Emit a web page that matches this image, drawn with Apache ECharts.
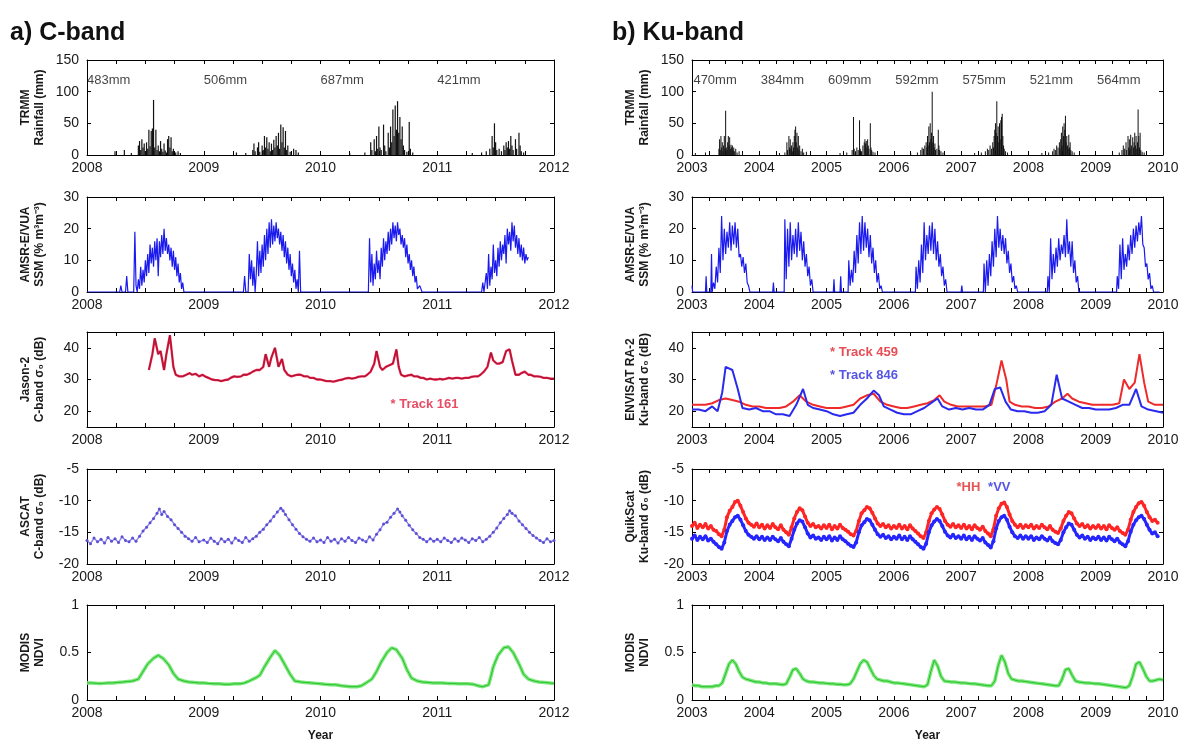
<!DOCTYPE html>
<html><head><meta charset="utf-8">
<script src="https://cdn.jsdelivr.net/npm/echarts@6/dist/echarts.min.js"></script>
<style>html,body{margin:0;padding:0;background:#fff}#c{width:1179px;height:743px}</style>
</head><body><div id="c"></div>
<script>
// ---------------- DATA ----------------
// Left column (C-band), decimal years 2008-2012
const rainC = [
[2008.24,6],[2008.32,8],[2008.38,3],[2008.44,15],[2008.45,22],[2008.46,8],[2008.47,25],[2008.48,12],[2008.49,18],[2008.50,6],[2008.51,20],[2008.52,10],[2008.53,40],[2008.54,14],[2008.55,38],[2008.56,42],[2008.57,87],[2008.58,12],[2008.59,40],[2008.60,8],[2008.61,15],[2008.62,6],[2008.63,22],[2008.64,10],[2008.65,5],[2008.66,18],[2008.67,7],[2008.68,4],[2008.69,25],[2008.70,30],[2008.71,12],[2008.72,28],[2008.73,6],[2008.74,10],[2008.76,4],[2008.78,6],[2008.80,3],
[2009.28,4],[2009.36,3],[2009.42,8],[2009.43,18],[2009.44,6],[2009.46,12],[2009.47,20],[2009.48,5],[2009.50,15],[2009.51,8],[2009.52,30],[2009.53,12],[2009.54,28],[2009.55,10],[2009.56,20],[2009.57,6],[2009.58,18],[2009.59,8],[2009.60,24],[2009.61,12],[2009.62,30],[2009.63,15],[2009.64,35],[2009.65,10],[2009.66,48],[2009.67,20],[2009.68,44],[2009.69,12],[2009.70,38],[2009.71,8],[2009.72,15],[2009.74,5],[2009.77,10],[2009.79,8],[2009.81,4],
[2010.25,3],[2010.38,4],[2010.43,20],[2010.44,8],[2010.46,25],[2010.47,6],[2010.48,30],[2010.49,10],[2010.50,45],[2010.51,12],[2010.52,8],[2010.54,48],[2010.55,15],[2010.56,6],[2010.58,35],[2010.59,12],[2010.60,45],[2010.61,20],[2010.62,72],[2010.63,30],[2010.64,78],[2010.65,40],[2010.66,85],[2010.67,35],[2010.68,60],[2010.69,25],[2010.70,45],[2010.71,15],[2010.72,8],[2010.74,5],[2010.76,52],[2010.77,10],[2010.79,4],
[2011.30,3],[2011.38,4],[2011.42,6],[2011.45,10],[2011.47,30],[2011.48,12],[2011.49,50],[2011.50,20],[2011.51,8],[2011.53,10],[2011.55,6],[2011.57,15],[2011.58,8],[2011.59,20],[2011.60,12],[2011.61,22],[2011.62,10],[2011.63,30],[2011.64,15],[2011.65,8],[2011.67,25],[2011.68,10],[2011.70,35],[2011.71,15],[2011.72,6],[2011.74,4]
];
const rainTotYearsC = [2008, 2009, 2010, 2011];
const rainTotLabelsC = ['483mm', '506mm', '687mm', '421mm'];

const ssmC = [
[2008.00,0],[2008.20,0],[2008.28,0],[2008.29,2],[2008.30,0],[2008.33,0],[2008.34,5],[2008.35,0],[2008.40,0],[2008.41,19],[2008.42,2],[2008.43,0],[2008.44,4],[2008.45,1],[2008.46,8],[2008.47,2],[2008.48,7],[2008.49,3],[2008.50,10],[2008.51,5],[2008.52,12],[2008.53,6],[2008.54,15],[2008.55,9],[2008.56,14],[2008.57,8],[2008.58,16],[2008.59,10],[2008.60,17],[2008.61,5],[2008.62,16],[2008.63,11],[2008.64,18],[2008.65,12],[2008.66,20],[2008.67,13],[2008.68,17],[2008.69,12],[2008.70,15],[2008.71,10],[2008.72,14],[2008.73,8],[2008.74,13],[2008.75,7],[2008.76,11],[2008.77,5],[2008.78,9],[2008.79,3],[2008.80,6],[2008.81,1],[2008.82,3],[2008.83,0],[2008.85,0],
[2009.30,0],[2009.34,0],[2009.35,5],[2009.36,0],[2009.38,0],[2009.39,12],[2009.40,4],[2009.41,10],[2009.42,2],[2009.43,8],[2009.44,0],[2009.45,6],[2009.46,16],[2009.47,5],[2009.48,13],[2009.49,6],[2009.50,15],[2009.51,8],[2009.52,18],[2009.53,10],[2009.54,20],[2009.55,12],[2009.56,22],[2009.57,14],[2009.58,23],[2009.59,15],[2009.60,21],[2009.61,16],[2009.62,22],[2009.63,17],[2009.64,20],[2009.65,15],[2009.66,19],[2009.67,13],[2009.68,18],[2009.69,11],[2009.70,16],[2009.71,9],[2009.72,14],[2009.73,7],[2009.74,12],[2009.75,5],[2009.76,9],[2009.77,3],[2009.78,7],[2009.79,1],[2009.80,4],[2009.81,0],[2009.82,13],[2009.83,0],[2009.85,0],
[2010.38,0],[2010.41,0],[2010.42,17],[2010.43,3],[2010.44,12],[2010.45,2],[2010.46,9],[2010.47,4],[2010.48,13],[2010.49,6],[2010.50,10],[2010.51,4],[2010.52,14],[2010.53,8],[2010.54,17],[2010.55,10],[2010.56,16],[2010.57,12],[2010.58,19],[2010.59,13],[2010.60,20],[2010.61,15],[2010.62,22],[2010.63,17],[2010.64,21],[2010.65,16],[2010.66,22],[2010.67,18],[2010.68,20],[2010.69,15],[2010.70,18],[2010.71,14],[2010.72,17],[2010.73,11],[2010.74,15],[2010.75,9],[2010.76,12],[2010.77,7],[2010.78,10],[2010.79,5],[2010.80,8],[2010.81,3],[2010.82,5],[2010.83,1],[2010.85,2],[2010.87,0],[2010.90,0],
[2011.35,0],[2011.38,0],[2011.39,3],[2011.40,0],[2011.42,6],[2011.43,1],[2011.44,12],[2011.45,2],[2011.46,8],[2011.47,4],[2011.48,15],[2011.49,6],[2011.50,10],[2011.51,5],[2011.52,14],[2011.53,8],[2011.54,16],[2011.55,10],[2011.56,15],[2011.57,12],[2011.58,18],[2011.59,9],[2011.60,20],[2011.61,15],[2011.62,19],[2011.63,13],[2011.64,22],[2011.65,16],[2011.66,21],[2011.67,14],[2011.68,18],[2011.69,12],[2011.70,17],[2011.71,11],[2011.72,15],[2011.73,10],[2011.74,14],[2011.75,9],[2011.76,12],[2011.77,10],[2011.78,11]
];

const jason161 = [
[2008.53,33],[2008.56,38],[2008.58,43],[2008.61,38],[2008.63,39],[2008.66,33],[2008.68,38],[2008.71,44],[2008.74,34],[2008.76,31.5],[2008.79,31],[2008.82,31],[2008.85,31.5],[2008.88,32],[2008.90,31.5],[2008.93,31.8],[2008.96,31],[2008.99,31.5],[2009.01,31],[2009.04,30.5],[2009.07,30],[2009.10,29.8],[2009.12,29.8],[2009.15,29.5],[2009.18,29.8],[2009.21,30],[2009.23,30.5],[2009.26,31],[2009.29,30.8],[2009.32,31],[2009.34,31.5],[2009.37,31.5],[2009.40,32],[2009.42,32.5],[2009.45,33],[2009.48,33],[2009.51,34],[2009.53,38],[2009.56,34],[2009.58,37],[2009.61,40],[2009.64,34],[2009.67,36.5],[2009.69,33],[2009.72,31.5],[2009.75,31],[2009.78,31.3],[2009.80,31.5],[2009.83,31.5],[2009.86,31],[2009.89,31],[2009.91,30.5],[2009.94,30.5],[2009.97,30],[2010.00,30],[2010.02,29.8],[2010.05,29.5],[2010.08,29.5],[2010.11,29.3],[2010.13,29.5],[2010.16,29.8],[2010.19,30],[2010.21,30.3],[2010.24,30.5],[2010.27,30.3],[2010.30,30.5],[2010.32,30.8],[2010.35,31],[2010.38,31],[2010.40,31.5],[2010.43,32.5],[2010.46,35],[2010.48,39],[2010.51,34],[2010.53,33],[2010.56,34],[2010.59,34.5],[2010.62,35],[2010.65,39.5],[2010.67,34],[2010.69,31.5],[2010.72,31],[2010.75,31.3],[2010.78,31.5],[2010.80,31],[2010.83,31],[2010.86,30.5],[2010.88,30.5],[2010.91,30],[2010.94,30.3],[2010.97,30],[2011.00,30],[2011.02,30.2],[2011.05,30],[2011.08,30.3],[2011.10,30.5],[2011.13,30.3],[2011.16,30.5],[2011.18,30.5],[2011.21,30.3],[2011.24,30.5],[2011.27,30.5],[2011.29,30.8],[2011.32,31],[2011.35,31],[2011.37,31.5],[2011.40,32.5],[2011.43,34],[2011.46,38.5],[2011.48,36],[2011.51,35],[2011.53,35],[2011.56,35.5],[2011.59,39],[2011.62,39.5],[2011.64,36],[2011.67,31.5],[2011.70,31.5],[2011.72,32],[2011.75,32.5],[2011.78,31.5],[2011.80,31.5],[2011.83,31],[2011.86,31],[2011.89,30.8],[2011.91,30.5],[2011.94,30.5],[2011.97,30.3],[2012.00,30.3]
];

const ascat = [
[2008.00,-16.3],[2008.03,-16.8],[2008.06,-15.9],[2008.09,-16.5],[2008.12,-16.1],[2008.15,-16.7],[2008.18,-15.8],[2008.21,-16.4],[2008.24,-16.0],[2008.27,-16.6],[2008.30,-15.7],[2008.33,-16.3],[2008.36,-16.5],[2008.39,-15.9],[2008.42,-16.4],[2008.45,-15.6],[2008.48,-14.8],[2008.51,-14.2],[2008.54,-13.5],[2008.57,-12.8],[2008.60,-12.0],[2008.62,-11.3],[2008.64,-12.2],[2008.66,-11.7],[2008.69,-12.5],[2008.72,-13.0],[2008.75,-13.8],[2008.78,-14.4],[2008.81,-15.0],[2008.84,-15.6],[2008.87,-16.0],[2008.90,-16.4],[2008.93,-15.8],[2008.96,-16.5],
[2009.00,-16.2],[2009.03,-16.6],[2009.06,-15.9],[2009.09,-16.4],[2009.12,-16.8],[2009.15,-16.0],[2009.18,-16.5],[2009.21,-16.1],[2009.24,-16.7],[2009.27,-15.9],[2009.30,-16.3],[2009.33,-16.6],[2009.36,-15.8],[2009.39,-16.4],[2009.42,-16.0],[2009.45,-15.6],[2009.48,-15.0],[2009.51,-14.5],[2009.54,-13.8],[2009.57,-13.2],[2009.60,-12.5],[2009.63,-11.8],[2009.66,-11.2],[2009.68,-11.6],[2009.70,-12.2],[2009.73,-13.0],[2009.76,-13.8],[2009.79,-14.5],[2009.82,-15.2],[2009.85,-15.7],[2009.88,-16.1],[2009.91,-16.4],[2009.94,-15.9],[2009.97,-16.5],
[2010.00,-16.2],[2010.03,-16.6],[2010.06,-15.8],[2010.09,-16.4],[2010.12,-16.1],[2010.15,-16.7],[2010.18,-16.0],[2010.21,-16.4],[2010.24,-15.8],[2010.27,-16.3],[2010.30,-16.6],[2010.33,-15.9],[2010.36,-16.2],[2010.39,-16.5],[2010.42,-15.7],[2010.45,-16.2],[2010.48,-15.3],[2010.51,-14.6],[2010.54,-13.7],[2010.57,-13.4],[2010.60,-12.6],[2010.63,-12.0],[2010.66,-11.3],[2010.68,-11.8],[2010.70,-12.4],[2010.73,-13.1],[2010.76,-13.9],[2010.79,-14.6],[2010.82,-15.2],[2010.85,-15.8],[2010.88,-16.1],[2010.91,-16.5],[2010.94,-16.0],[2010.97,-16.4],
[2011.00,-16.1],[2011.03,-16.5],[2011.06,-15.9],[2011.09,-16.3],[2011.12,-16.6],[2011.15,-16.0],[2011.18,-16.4],[2011.21,-15.9],[2011.24,-16.2],[2011.27,-16.6],[2011.30,-16.0],[2011.33,-16.3],[2011.36,-15.8],[2011.39,-16.5],[2011.42,-16.1],[2011.45,-15.6],[2011.48,-15.0],[2011.51,-14.3],[2011.54,-13.5],[2011.57,-12.8],[2011.60,-12.2],[2011.62,-11.6],[2011.64,-12.0],[2011.67,-12.4],[2011.70,-13.2],[2011.73,-13.8],[2011.76,-14.4],[2011.79,-15.0],[2011.82,-15.5],[2011.85,-15.9],[2011.88,-16.3],[2011.91,-16.6],[2011.94,-16.0],[2011.97,-16.5],[2012.00,-16.3]
];

const ndviC = [
[2008.00,0.18],[2008.04,0.18],[2008.09,0.175],[2008.13,0.175],[2008.18,0.18],[2008.22,0.18],[2008.26,0.185],[2008.31,0.19],[2008.35,0.195],[2008.39,0.2],[2008.44,0.22],[2008.48,0.3],[2008.52,0.38],[2008.57,0.44],[2008.61,0.47],[2008.65,0.44],[2008.70,0.37],[2008.74,0.28],[2008.78,0.22],[2008.83,0.2],[2008.87,0.19],[2008.92,0.185],[2008.96,0.18],
[2009.00,0.18],[2009.04,0.175],[2009.09,0.17],[2009.13,0.17],[2009.18,0.165],[2009.22,0.165],[2009.26,0.17],[2009.31,0.17],[2009.35,0.18],[2009.39,0.2],[2009.44,0.23],[2009.48,0.26],[2009.52,0.35],[2009.57,0.45],[2009.61,0.52],[2009.65,0.47],[2009.70,0.36],[2009.74,0.27],[2009.78,0.2],[2009.83,0.19],[2009.87,0.185],[2009.92,0.18],[2009.96,0.175],
[2010.00,0.17],[2010.04,0.165],[2010.09,0.16],[2010.13,0.16],[2010.18,0.15],[2010.22,0.145],[2010.26,0.14],[2010.31,0.14],[2010.35,0.15],[2010.39,0.18],[2010.44,0.22],[2010.48,0.3],[2010.52,0.4],[2010.57,0.5],[2010.61,0.55],[2010.65,0.53],[2010.70,0.44],[2010.74,0.32],[2010.78,0.23],[2010.83,0.2],[2010.87,0.19],[2010.92,0.185],[2010.96,0.18],
[2011.00,0.18],[2011.04,0.18],[2011.09,0.175],[2011.13,0.175],[2011.18,0.17],[2011.22,0.17],[2011.26,0.17],[2011.31,0.165],[2011.35,0.15],[2011.39,0.14],[2011.44,0.16],[2011.46,0.25],[2011.48,0.35],[2011.52,0.47],[2011.57,0.55],[2011.61,0.56],[2011.65,0.5],[2011.70,0.38],[2011.74,0.27],[2011.78,0.22],[2011.83,0.2],[2011.87,0.19],[2011.92,0.185],[2011.96,0.18],[2012.00,0.175]
];

// Right column (Ku-band), decimal years 2003-2010
const rainKu = [
[2003.05,3],[2003.20,4],[2003.40,10],[2003.41,25],[2003.42,8],[2003.43,30],[2003.44,12],[2003.45,20],[2003.46,6],[2003.47,15],[2003.48,30],[2003.49,10],[2003.50,70],[2003.51,12],[2003.52,8],[2003.53,20],[2003.54,30],[2003.55,15],[2003.56,28],[2003.57,10],[2003.58,16],[2003.59,12],[2003.60,15],[2003.61,8],[2003.62,12],[2003.63,6],[2003.65,10],[2003.67,4],[2003.70,6],[2003.75,3],
[2004.30,3],[2004.38,4],[2004.41,20],[2004.42,8],[2004.44,30],[2004.45,12],[2004.46,25],[2004.47,10],[2004.48,15],[2004.49,6],[2004.50,20],[2004.51,12],[2004.52,30],[2004.53,40],[2004.54,45],[2004.55,20],[2004.56,35],[2004.57,12],[2004.58,30],[2004.59,8],[2004.60,15],[2004.62,6],[2004.64,10],[2004.66,4],[2004.70,5],
[2005.20,3],[2005.30,4],[2005.38,8],[2005.40,60],[2005.41,10],[2005.43,6],[2005.45,12],[2005.47,8],[2005.49,55],[2005.50,10],[2005.52,6],[2005.54,15],[2005.56,20],[2005.57,25],[2005.58,18],[2005.59,22],[2005.60,12],[2005.61,25],[2005.62,15],[2005.63,10],[2005.65,50],[2005.66,12],[2005.67,8],[2005.69,5],[2005.72,4],
[2006.25,3],[2006.35,4],[2006.40,8],[2006.42,12],[2006.44,10],[2006.46,15],[2006.48,20],[2006.49,12],[2006.50,30],[2006.51,15],[2006.52,45],[2006.53,20],[2006.54,50],[2006.55,25],[2006.56,35],[2006.57,100],[2006.58,20],[2006.59,30],[2006.60,12],[2006.61,18],[2006.62,8],[2006.64,10],[2006.66,40],[2006.67,15],[2006.68,8],[2006.70,6],[2006.73,4],
[2007.20,3],[2007.30,4],[2007.36,6],[2007.39,10],[2007.41,8],[2007.43,15],[2007.45,10],[2007.47,20],[2007.48,12],[2007.49,30],[2007.50,40],[2007.51,50],[2007.52,35],[2007.53,85],[2007.54,30],[2007.55,45],[2007.56,20],[2007.57,50],[2007.58,25],[2007.59,55],[2007.60,60],[2007.61,65],[2007.62,30],[2007.63,15],[2007.64,10],[2007.66,6],[2007.69,4],
[2008.20,3],[2008.30,4],[2008.36,6],[2008.38,10],[2008.40,8],[2008.42,15],[2008.44,12],[2008.46,20],[2008.47,10],[2008.48,25],[2008.49,35],[2008.50,15],[2008.51,45],[2008.52,30],[2008.53,50],[2008.54,40],[2008.55,62],[2008.56,20],[2008.57,30],[2008.58,15],[2008.59,10],[2008.60,32],[2008.61,12],[2008.62,20],[2008.63,8],[2008.65,6],[2008.68,4],
[2009.25,3],[2009.35,4],[2009.39,8],[2009.41,15],[2009.43,10],[2009.45,20],[2009.46,8],[2009.48,30],[2009.49,12],[2009.50,25],[2009.51,10],[2009.52,32],[2009.53,15],[2009.55,28],[2009.56,12],[2009.57,20],[2009.58,35],[2009.59,15],[2009.60,30],[2009.61,10],[2009.62,20],[2009.63,72],[2009.64,30],[2009.65,12],[2009.66,35],[2009.67,8],[2009.69,5],[2009.72,4]
];
const rainTotYearsKu = [2003, 2004, 2005, 2006, 2007, 2008, 2009];
const rainTotLabelsKu = ['470mm', '384mm', '609mm', '592mm', '575mm', '521mm', '564mm'];

const ssmKu = [
[2003.00,2],[2003.01,0],[2003.20,0],[2003.21,5],[2003.22,0],[2003.28,0],[2003.29,12],[2003.30,0],[2003.32,3],[2003.34,1],[2003.36,8],[2003.38,3],[2003.40,14],[2003.42,6],[2003.44,24],[2003.46,10],[2003.48,20],[2003.50,12],[2003.52,19],[2003.54,14],[2003.56,22],[2003.58,13],[2003.60,21],[2003.62,15],[2003.64,22],[2003.66,14],[2003.68,20],[2003.70,11],[2003.72,12],[2003.74,8],[2003.76,11],[2003.78,6],[2003.80,9],[2003.82,3],[2003.84,2],[2003.86,0],
[2004.20,0],[2004.21,3],[2004.22,0],[2004.37,0],[2004.38,23],[2004.40,4],[2004.42,20],[2004.44,8],[2004.46,22],[2004.48,10],[2004.50,18],[2004.52,12],[2004.54,20],[2004.56,11],[2004.58,22],[2004.60,13],[2004.62,19],[2004.64,10],[2004.66,16],[2004.68,8],[2004.70,12],[2004.72,5],[2004.74,8],[2004.76,2],[2004.78,4],[2004.80,0],
[2005.10,0],[2005.11,4],[2005.12,0],[2005.20,0],[2005.21,5],[2005.22,0],[2005.32,0],[2005.33,10],[2005.35,2],[2005.37,7],[2005.39,3],[2005.41,13],[2005.43,6],[2005.45,18],[2005.47,9],[2005.49,22],[2005.51,12],[2005.53,24],[2005.55,13],[2005.57,22],[2005.59,14],[2005.61,20],[2005.63,11],[2005.65,18],[2005.67,9],[2005.69,14],[2005.71,6],[2005.73,10],[2005.75,3],[2005.77,6],[2005.79,1],[2005.81,2],[2005.83,0],
[2006.32,0],[2006.33,8],[2006.35,1],[2006.37,10],[2006.39,3],[2006.41,15],[2006.43,6],[2006.45,22],[2006.47,10],[2006.49,18],[2006.51,12],[2006.53,21],[2006.55,13],[2006.57,22],[2006.59,12],[2006.61,20],[2006.63,10],[2006.65,16],[2006.67,8],[2006.69,12],[2006.71,5],[2006.73,8],[2006.75,2],[2006.77,4],[2006.79,0],
[2007.00,0],[2007.01,2],[2007.02,0],[2007.33,0],[2007.34,9],[2007.36,0],[2007.38,10],[2007.40,2],[2007.42,12],[2007.44,5],[2007.46,16],[2007.48,8],[2007.50,20],[2007.52,11],[2007.54,24],[2007.56,14],[2007.58,20],[2007.60,13],[2007.62,18],[2007.64,12],[2007.66,17],[2007.68,9],[2007.70,13],[2007.72,6],[2007.74,9],[2007.76,3],[2007.78,5],[2007.80,1],[2007.82,2],[2007.84,0],
[2008.28,0],[2008.29,5],[2008.31,0],[2008.33,17],[2008.35,4],[2008.37,12],[2008.39,6],[2008.41,14],[2008.43,8],[2008.45,17],[2008.47,10],[2008.49,15],[2008.51,12],[2008.53,18],[2008.55,11],[2008.57,23],[2008.59,12],[2008.61,16],[2008.63,8],[2008.65,16],[2008.67,6],[2008.69,10],[2008.71,3],[2008.73,5],[2008.75,0],
[2009.31,0],[2009.32,5],[2009.34,1],[2009.36,15],[2009.38,4],[2009.40,17],[2009.42,7],[2009.44,12],[2009.46,8],[2009.48,15],[2009.50,10],[2009.52,18],[2009.54,12],[2009.56,20],[2009.58,14],[2009.60,21],[2009.62,16],[2009.64,22],[2009.66,18],[2009.68,24],[2009.70,15],[2009.72,14],[2009.74,8],[2009.76,9],[2009.78,4],[2009.80,6],[2009.82,1],[2009.84,2],[2009.86,0],[2009.95,0]
];

const envTrack459 = [
[2003.0,22],[2003.1,22],[2003.2,22],[2003.3,22.5],[2003.4,23.5],[2003.5,24],[2003.6,23.5],[2003.7,23],[2003.8,22],[2003.9,21.5],[2004.0,21.5],[2004.1,21],[2004.2,21],[2004.3,21],[2004.4,21.5],[2004.5,23],[2004.6,25],[2004.7,23],[2004.8,22],[2004.9,21.5],[2005.0,21],[2005.1,21],[2005.2,21],[2005.3,21.5],[2005.4,22],[2005.5,24],[2005.6,25],[2005.7,25.5],[2005.8,23],[2005.9,22],[2006.0,21.5],[2006.1,21],[2006.2,21],[2006.3,21.5],[2006.4,22],[2006.5,22.5],[2006.6,23.5],[2006.68,25],[2006.75,23],[2006.85,22],[2006.95,21.5],[2007.05,21.5],[2007.15,21.5],[2007.25,21.5],[2007.35,21.5],[2007.45,22],[2007.52,28],[2007.6,36],[2007.67,30],[2007.72,23],[2007.8,22],[2007.9,21.5],[2008.0,21.5],[2008.1,21],[2008.2,21],[2008.3,21.5],[2008.4,23],[2008.5,24],[2008.58,25.5],[2008.65,24],[2008.75,23],[2008.85,22.5],[2008.95,22],[2009.05,22],[2009.15,22],[2009.25,22],[2009.35,22.5],[2009.42,30],[2009.5,27],[2009.58,29],[2009.65,38],[2009.72,29],[2009.78,23],[2009.88,22],[2010.0,22]
];
const envTrack846 = [
[2003.0,20.5],[2003.1,20.5],[2003.2,20],[2003.3,21.5],[2003.38,20],[2003.45,26],[2003.5,34],[2003.6,33],[2003.68,27],[2003.75,21],[2003.85,20.5],[2003.95,21],[2004.05,20],[2004.15,20],[2004.25,19],[2004.35,19],[2004.45,18.5],[2004.55,22],[2004.65,27],[2004.72,22],[2004.8,21],[2004.9,20.5],[2005.0,20],[2005.1,19],[2005.2,18.5],[2005.3,19],[2005.4,19.5],[2005.5,22],[2005.6,24],[2005.7,26.5],[2005.78,25],[2005.85,21.5],[2005.95,20.5],[2006.05,19.5],[2006.15,19],[2006.25,19],[2006.35,20],[2006.45,21],[2006.55,22.5],[2006.65,24],[2006.72,21.5],[2006.82,20.5],[2006.92,21],[2007.02,20.5],[2007.12,21],[2007.22,20.5],[2007.32,20.5],[2007.42,22],[2007.5,27],[2007.58,27.5],[2007.66,23],[2007.74,20.5],[2007.84,20],[2007.94,20],[2008.04,19.5],[2008.14,19.5],[2008.24,20],[2008.34,22],[2008.42,31.5],[2008.5,24],[2008.6,23],[2008.7,22],[2008.8,21],[2008.9,21],[2009.0,20.5],[2009.1,20.5],[2009.2,20.5],[2009.3,21],[2009.4,22],[2009.5,22],[2009.6,27],[2009.68,21.5],[2009.78,20.5],[2009.9,20],[2010.0,19.5]
];

const qsHH = [
[2003.00,-14.0],[2003.04,-13.5],[2003.08,-14.3],[2003.12,-13.8],[2003.16,-14.2],[2003.20,-13.7],[2003.24,-14.4],[2003.28,-14.0],[2003.32,-14.6],[2003.36,-14.8],[2003.40,-15.3],[2003.44,-15.6],[2003.48,-14.6],[2003.52,-12.6],[2003.56,-11.6],[2003.60,-11.0],[2003.64,-10.2],[2003.68,-10.0],[2003.72,-10.8],[2003.76,-11.8],[2003.80,-12.8],[2003.84,-13.5],[2003.88,-13.8],[2003.92,-14.1],[2003.96,-13.6],
[2004.00,-14.2],[2004.04,-13.8],[2004.08,-14.4],[2004.12,-13.9],[2004.16,-14.3],[2004.20,-13.7],[2004.24,-14.2],[2004.28,-14.5],[2004.32,-13.9],[2004.36,-14.6],[2004.40,-15.0],[2004.44,-15.4],[2004.48,-14.2],[2004.52,-12.8],[2004.56,-11.8],[2004.60,-11.2],[2004.64,-11.5],[2004.68,-12.5],[2004.72,-13.5],[2004.76,-14.0],[2004.80,-13.7],[2004.84,-14.2],[2004.88,-14.0],[2004.92,-14.4],[2004.96,-13.9],
[2005.00,-14.3],[2005.04,-13.8],[2005.08,-14.5],[2005.12,-14.0],[2005.16,-14.4],[2005.20,-13.8],[2005.24,-14.3],[2005.28,-14.6],[2005.32,-14.9],[2005.36,-15.3],[2005.40,-15.5],[2005.44,-14.8],[2005.48,-13.2],[2005.52,-12.0],[2005.56,-11.5],[2005.60,-11.0],[2005.64,-11.2],[2005.68,-11.9],[2005.72,-12.8],[2005.76,-13.6],[2005.80,-14.0],[2005.84,-13.7],[2005.88,-14.2],[2005.92,-13.9],[2005.96,-14.4],
[2006.00,-14.0],[2006.04,-14.3],[2006.08,-13.8],[2006.12,-14.4],[2006.16,-14.0],[2006.20,-14.5],[2006.24,-13.9],[2006.28,-14.4],[2006.32,-14.8],[2006.36,-15.2],[2006.40,-15.6],[2006.44,-15.9],[2006.48,-15.0],[2006.52,-13.2],[2006.56,-12.0],[2006.60,-11.4],[2006.64,-11.0],[2006.68,-11.3],[2006.72,-12.2],[2006.76,-13.2],[2006.80,-13.8],[2006.84,-14.1],[2006.88,-13.7],[2006.92,-14.2],[2006.96,-13.9],
[2007.00,-14.3],[2007.04,-13.8],[2007.08,-14.4],[2007.12,-14.0],[2007.16,-14.5],[2007.20,-13.9],[2007.24,-14.3],[2007.28,-14.6],[2007.32,-14.1],[2007.36,-14.8],[2007.40,-15.2],[2007.44,-15.6],[2007.48,-14.5],[2007.52,-12.4],[2007.56,-11.2],[2007.60,-10.5],[2007.64,-10.3],[2007.68,-11.0],[2007.72,-12.2],[2007.76,-13.2],[2007.80,-13.8],[2007.84,-14.2],[2007.88,-13.8],[2007.92,-14.3],[2007.96,-13.9],
[2008.00,-14.2],[2008.04,-13.8],[2008.08,-14.4],[2008.12,-14.0],[2008.16,-14.3],[2008.20,-13.8],[2008.24,-14.2],[2008.28,-14.5],[2008.32,-14.0],[2008.36,-14.6],[2008.40,-14.9],[2008.44,-15.1],[2008.48,-14.4],[2008.52,-13.2],[2008.56,-12.4],[2008.60,-11.8],[2008.64,-12.0],[2008.68,-12.8],[2008.72,-13.6],[2008.76,-14.0],[2008.80,-13.7],[2008.84,-14.2],[2008.88,-13.9],[2008.92,-14.4],[2008.96,-14.0],
[2009.00,-14.3],[2009.04,-13.9],[2009.08,-14.4],[2009.12,-14.0],[2009.16,-14.5],[2009.20,-13.9],[2009.24,-14.3],[2009.28,-14.6],[2009.32,-14.2],[2009.36,-14.8],[2009.40,-15.1],[2009.44,-15.4],[2009.48,-14.6],[2009.52,-13.0],[2009.56,-11.8],[2009.60,-11.0],[2009.64,-10.4],[2009.68,-10.2],[2009.72,-10.8],[2009.76,-11.8],[2009.80,-12.6],[2009.84,-13.2],[2009.88,-13.0],[2009.92,-13.5]
];
const qsVV = [
[2003.00,-16.0],[2003.04,-15.5],[2003.08,-16.2],[2003.12,-15.7],[2003.16,-16.1],[2003.20,-15.6],[2003.24,-16.3],[2003.28,-16.0],[2003.32,-16.5],[2003.36,-16.9],[2003.40,-17.3],[2003.44,-17.6],[2003.48,-16.6],[2003.52,-14.8],[2003.56,-13.8],[2003.60,-13.2],[2003.64,-12.6],[2003.68,-12.4],[2003.72,-13.0],[2003.76,-13.9],[2003.80,-14.8],[2003.84,-15.4],[2003.88,-15.7],[2003.92,-16.0],[2003.96,-15.6],
[2004.00,-16.1],[2004.04,-15.7],[2004.08,-16.2],[2004.12,-15.8],[2004.16,-16.2],[2004.20,-15.7],[2004.24,-16.1],[2004.28,-16.4],[2004.32,-15.9],[2004.36,-16.5],[2004.40,-16.9],[2004.44,-17.2],[2004.48,-16.0],[2004.52,-14.6],[2004.56,-13.6],[2004.60,-13.1],[2004.64,-13.3],[2004.68,-14.2],[2004.72,-15.2],[2004.76,-15.8],[2004.80,-15.5],[2004.84,-16.0],[2004.88,-15.8],[2004.92,-16.2],[2004.96,-15.7],
[2005.00,-16.1],[2005.04,-15.6],[2005.08,-16.3],[2005.12,-15.8],[2005.16,-16.2],[2005.20,-15.6],[2005.24,-16.1],[2005.28,-16.4],[2005.32,-16.8],[2005.36,-17.1],[2005.40,-17.3],[2005.44,-16.6],[2005.48,-15.0],[2005.52,-13.9],[2005.56,-13.4],[2005.60,-12.9],[2005.64,-13.1],[2005.68,-13.8],[2005.72,-14.6],[2005.76,-15.3],[2005.80,-15.7],[2005.84,-15.4],[2005.88,-15.9],[2005.92,-15.6],[2005.96,-16.1],
[2006.00,-15.7],[2006.04,-16.0],[2006.08,-15.5],[2006.12,-16.1],[2006.16,-15.7],[2006.20,-16.2],[2006.24,-15.6],[2006.28,-16.1],[2006.32,-16.5],[2006.36,-16.9],[2006.40,-17.3],[2006.44,-17.6],[2006.48,-16.8],[2006.52,-15.0],[2006.56,-13.9],[2006.60,-13.3],[2006.64,-12.9],[2006.68,-13.2],[2006.72,-14.0],[2006.76,-14.9],[2006.80,-15.5],[2006.84,-15.8],[2006.88,-15.4],[2006.92,-15.9],[2006.96,-15.6],
[2007.00,-16.0],[2007.04,-15.5],[2007.08,-16.1],[2007.12,-15.7],[2007.16,-16.2],[2007.20,-15.6],[2007.24,-16.0],[2007.28,-16.3],[2007.32,-15.9],[2007.36,-16.6],[2007.40,-17.0],[2007.44,-17.4],[2007.48,-16.4],[2007.52,-14.4],[2007.56,-13.2],[2007.60,-12.6],[2007.64,-12.4],[2007.68,-13.0],[2007.72,-14.1],[2007.76,-15.0],[2007.80,-15.6],[2007.84,-15.9],[2007.88,-15.5],[2007.92,-16.0],[2007.96,-15.6],
[2008.00,-16.0],[2008.04,-15.6],[2008.08,-16.2],[2008.12,-15.8],[2008.16,-16.1],[2008.20,-15.6],[2008.24,-16.0],[2008.28,-16.3],[2008.32,-15.8],[2008.36,-16.4],[2008.40,-16.7],[2008.44,-16.9],[2008.48,-16.2],[2008.52,-15.0],[2008.56,-14.2],[2008.60,-13.6],[2008.64,-13.8],[2008.68,-14.6],[2008.72,-15.4],[2008.76,-15.8],[2008.80,-15.5],[2008.84,-16.0],[2008.88,-15.7],[2008.92,-16.2],[2008.96,-15.8],
[2009.00,-16.1],[2009.04,-15.7],[2009.08,-16.2],[2009.12,-15.8],[2009.16,-16.3],[2009.20,-15.7],[2009.24,-16.1],[2009.28,-16.4],[2009.32,-16.0],[2009.36,-16.6],[2009.40,-16.9],[2009.44,-17.2],[2009.48,-16.4],[2009.52,-14.9],[2009.56,-13.8],[2009.60,-13.1],[2009.64,-12.6],[2009.68,-12.4],[2009.72,-12.9],[2009.76,-13.8],[2009.80,-14.6],[2009.84,-15.2],[2009.88,-15.0],[2009.92,-15.6]
];

const ndviKu = [
[2003.00,0.16],[2003.05,0.15],[2003.10,0.15],[2003.15,0.14],[2003.20,0.14],[2003.25,0.14],[2003.30,0.14],[2003.35,0.15],[2003.40,0.15],[2003.45,0.18],[2003.50,0.28],[2003.55,0.38],[2003.60,0.42],[2003.65,0.38],[2003.70,0.3],[2003.75,0.24],[2003.80,0.22],[2003.85,0.21],[2003.90,0.2],[2003.95,0.19],
[2004.00,0.19],[2004.05,0.18],[2004.10,0.18],[2004.15,0.17],[2004.20,0.17],[2004.25,0.17],[2004.30,0.165],[2004.35,0.16],[2004.40,0.17],[2004.45,0.24],[2004.50,0.32],[2004.55,0.33],[2004.60,0.28],[2004.65,0.22],[2004.70,0.2],[2004.75,0.19],[2004.80,0.19],[2004.85,0.185],[2004.90,0.18],[2004.95,0.18],
[2005.00,0.175],[2005.05,0.17],[2005.10,0.17],[2005.15,0.165],[2005.20,0.165],[2005.25,0.16],[2005.30,0.16],[2005.35,0.17],[2005.40,0.22],[2005.45,0.3],[2005.50,0.38],[2005.55,0.42],[2005.60,0.4],[2005.65,0.33],[2005.70,0.26],[2005.75,0.22],[2005.80,0.21],[2005.85,0.2],[2005.90,0.2],[2005.95,0.19],
[2006.00,0.18],[2006.05,0.18],[2006.10,0.175],[2006.15,0.17],[2006.20,0.165],[2006.25,0.16],[2006.30,0.155],[2006.35,0.15],[2006.40,0.145],[2006.45,0.14],[2006.50,0.16],[2006.55,0.3],[2006.60,0.42],[2006.65,0.36],[2006.70,0.25],[2006.75,0.2],[2006.80,0.195],[2006.85,0.19],[2006.90,0.19],[2006.95,0.185],
[2007.00,0.18],[2007.05,0.18],[2007.10,0.175],[2007.15,0.17],[2007.20,0.17],[2007.25,0.165],[2007.30,0.16],[2007.35,0.155],[2007.40,0.15],[2007.45,0.15],[2007.50,0.2],[2007.55,0.36],[2007.60,0.47],[2007.65,0.4],[2007.70,0.28],[2007.75,0.22],[2007.80,0.21],[2007.85,0.2],[2007.90,0.2],[2007.95,0.195],
[2008.00,0.19],[2008.05,0.185],[2008.10,0.18],[2008.15,0.175],[2008.20,0.17],[2008.25,0.165],[2008.30,0.16],[2008.35,0.155],[2008.40,0.15],[2008.45,0.15],[2008.50,0.22],[2008.55,0.32],[2008.60,0.33],[2008.65,0.26],[2008.70,0.2],[2008.75,0.19],[2008.80,0.185],[2008.85,0.18],[2008.90,0.18],[2008.95,0.175],
[2009.00,0.17],[2009.05,0.17],[2009.10,0.165],[2009.15,0.16],[2009.20,0.155],[2009.25,0.15],[2009.30,0.145],[2009.35,0.14],[2009.40,0.135],[2009.45,0.13],[2009.50,0.15],[2009.55,0.25],[2009.60,0.38],[2009.65,0.4],[2009.70,0.33],[2009.75,0.25],[2009.80,0.2],[2009.85,0.2],[2009.90,0.21],[2009.95,0.22],[2010.00,0.21]
];

// ---------------- CHART ----------------
const FONT = '"Liberation Sans", Arial, sans-serif';
const TXT = '#1a1a1a';
const LEFTCOL = {x: 87, w: 467, min: 2008, max: 2012};
const RIGHTCOL = {x: 692, w: 471, min: 2003, max: 2010};
const TOPS = [60, 197, 332, 469, 605];
const H = 95;
const grids = [], xAxes = [], yAxes = [], series = [];

function yearFmt(v) { return Math.abs(v - Math.round(v)) < 1e-6 ? String(Math.round(v)) : ''; }
function numFmt(v) { return Math.abs(v) < 1e-9 ? '0' : String(+v.toFixed(2)); }

function addPanel(col, row, y) {
  const g = grids.length;
  grids.push({left: col.x, top: TOPS[row], width: col.w, height: H, containLabel: false, outerBoundsMode: 'none', show: false});
  const tick = {show: true, inside: true, length: 4, lineStyle: {color: '#000', width: 1}};
  const line = {show: true, onZero: false, lineStyle: {color: '#000', width: 1}};
  const xi = xAxes.length;
  xAxes.push({gridIndex: g, type: 'value', position: 'bottom', min: col.min, max: col.max, interval: 0.25,
    splitLine: {show: false}, axisLine: line, axisTick: tick,
    axisLabel: {show: true, margin: 6, fontSize: 14, color: TXT, fontFamily: FONT, formatter: yearFmt, hideOverlap: false},
    name: row === 4 ? 'Year' : '', nameLocation: 'middle', nameGap: 30,
    nameTextStyle: {fontWeight: 'bold', fontSize: 12, color: TXT, fontFamily: FONT}});
  xAxes.push({gridIndex: g, type: 'value', position: 'top', min: col.min, max: col.max, interval: 0.25,
    splitLine: {show: false}, axisLine: line, axisTick: tick, axisLabel: {show: false}});
  const yi = yAxes.length;
  const yTick = Object.assign({}, tick, y.ticks ? {customValues: y.ticks} : {});
  const yLab = {show: true, margin: 8, fontSize: 14, color: TXT, fontFamily: FONT,
    formatter: v => (y.ticks && y.ticks.indexOf(v) < 0) ? '' : numFmt(v)};
  if (y.ticks) yLab.customValues = y.ticks;
  yAxes.push({gridIndex: g, type: 'value', position: 'left', min: y.min, max: y.max, interval: y.interval,
    splitLine: {show: false}, axisLine: line, axisTick: yTick, axisLabel: yLab,
    name: y.name, nameLocation: 'middle', nameRotate: 90, nameGap: 40,
    nameTextStyle: {fontWeight: 'bold', fontSize: 12, color: TXT, fontFamily: FONT, lineHeight: 14, align: 'center'}});
  yAxes.push({gridIndex: g, type: 'value', position: 'right', min: y.min, max: y.max, interval: y.interval,
    splitLine: {show: false}, axisLine: line, axisTick: yTick, axisLabel: {show: false}});
  return {xAxisIndex: xi, yAxisIndex: yi};
}

function lineSeries(ax, data, color, width, extra) {
  return Object.assign({type: 'line', xAxisIndex: ax.xAxisIndex, yAxisIndex: ax.yAxisIndex, data: data,
    showSymbol: false, symbol: 'none', lineStyle: {color: color, width: width}, itemStyle: {color: color},
    silent: true, animation: false}, extra || {});
}
function textSeries(ax, points, texts, color, size, bold) {
  return {type: 'scatter', xAxisIndex: ax.xAxisIndex, yAxisIndex: ax.yAxisIndex, symbolSize: 0.1, silent: true,
    data: points, itemStyle: {color: 'rgba(0,0,0,0)'},
    label: {show: true, position: 'right', distance: 0, color: color, fontSize: size, fontFamily: FONT,
      fontWeight: bold ? 'bold' : 'normal', formatter: p => texts[p.dataIndex]}};
}

const SIG = 'σ\u2080';
// Left column
const a1 = addPanel(LEFTCOL, 0, {min: 0, max: 150, interval: 50, name: 'TRMM\nRainfall (mm)'});
const a2 = addPanel(LEFTCOL, 1, {min: 0, max: 30, interval: 10, name: 'AMSR-E/VUA\nSSM (% m\u00B3m\u207B\u00B3)'});
const a3 = addPanel(LEFTCOL, 2, {min: 15, max: 45, interval: 5, ticks: [20, 30, 40], name: 'Jason-2\nC-band ' + SIG + ' (dB)'});
const a4 = addPanel(LEFTCOL, 3, {min: -20, max: -5, interval: 5, name: 'ASCAT\nC-band ' + SIG + ' (dB)'});
const a5 = addPanel(LEFTCOL, 4, {min: 0, max: 1, interval: 0.5, name: 'MODIS\nNDVI'});
// Right column
const b1 = addPanel(RIGHTCOL, 0, {min: 0, max: 150, interval: 50, name: 'TRMM\nRainfall (mm)'});
const b2 = addPanel(RIGHTCOL, 1, {min: 0, max: 30, interval: 10, name: 'AMSR-E/VUA\nSSM (% m\u00B3m\u207B\u00B3)'});
const b3 = addPanel(RIGHTCOL, 2, {min: 15, max: 45, interval: 5, ticks: [20, 30, 40], name: 'ENVISAT RA-2\nKu-band ' + SIG + ' (dB)'});
const b4 = addPanel(RIGHTCOL, 3, {min: -20, max: -5, interval: 5, name: 'QuikScat\nKu-band ' + SIG + ' (dB)'});
const b5 = addPanel(RIGHTCOL, 4, {min: 0, max: 1, interval: 0.5, name: 'MODIS\nNDVI'});

// rainfall bars
[[a1, rainC, 1.2], [b1, rainKu, 1]].forEach(([ax, d, w]) => {
  series.push({type: 'bar', xAxisIndex: ax.xAxisIndex, yAxisIndex: ax.yAxisIndex, data: d, barWidth: w,
    itemStyle: {color: '#111'}, silent: true, animation: false});
});
series.push(textSeries(a1, rainTotYearsC.map(y => [y, 117]), rainTotLabelsC, '#111', 13, false));
series.push(textSeries(b1, rainTotYearsKu.map(y => [y + 0.02, 117]), rainTotLabelsKu, '#111', 13, false));

// SSM
series.push(lineSeries(a2, ssmC, '#1a1aee', 1.2));
series.push(lineSeries(b2, ssmKu, '#1a1aee', 1.2));

// Jason-2
series.push(lineSeries(a3, jason161, '#ee1c45', 2.3));
series.push(lineSeries(a3, jason161, '#7a1830', 0.7));
series.push(textSeries(a3, [[2010.6, 22.2]], ['* Track 161'], '#e0203c', 13, true));

// ENVISAT
series.push(lineSeries(b3, envTrack459, '#ee2a2a', 2));
series.push(lineSeries(b3, envTrack846, '#2a2aee', 2));
series.push(textSeries(b3, [[2005.05, 38.4]], ['* Track 459'], '#e0202a', 13, true));
series.push(textSeries(b3, [[2005.05, 31.2]], ['* Track 846'], '#2a2ae0', 13, true));

// ASCAT
series.push(lineSeries(a4, ascat, '#5a4fd6', 1, {showSymbol: true, symbol: 'circle', symbolSize: 3,
  lineStyle: {color: '#6b60dd', width: 1.4, opacity: 0.8}}));

// QuikScat
series.push(lineSeries(b4, qsHH, '#ff2525', 3, {showSymbol: true, symbol: 'circle', symbolSize: 4}));
series.push(lineSeries(b4, qsVV, '#2525ff', 3, {showSymbol: true, symbol: 'circle', symbolSize: 4}));
series.push(textSeries(b4, [[2006.93, -7.9]], ['*HH'], '#e02a2a', 13, true));
series.push(textSeries(b4, [[2007.4, -7.9]], ['*VV'], '#2a2ae0', 13, true));

// NDVI
series.push(lineSeries(a5, ndviC, '#78e878', 3.5));
series.push(lineSeries(a5, ndviC, '#2cbf2c', 1));
series.push(lineSeries(b5, ndviKu, '#78e878', 3.5));
series.push(lineSeries(b5, ndviKu, '#2cbf2c', 1));

const option = {
  animation: false,
  backgroundColor: '#fff',
  title: [
    {text: 'a) C-band', left: 5, top: 16, textStyle: {fontSize: 25, fontWeight: 'bold', color: '#111', fontFamily: FONT}},
    {text: 'b) Ku-band', left: 607, top: 16, textStyle: {fontSize: 25, fontWeight: 'bold', color: '#111', fontFamily: FONT}}
  ],
  grid: grids, xAxis: xAxes, yAxis: yAxes, series: series
};
const chart = echarts.init(document.getElementById('c'), null, {renderer: 'canvas'});
chart.setOption(option);
</script>
</body></html>
